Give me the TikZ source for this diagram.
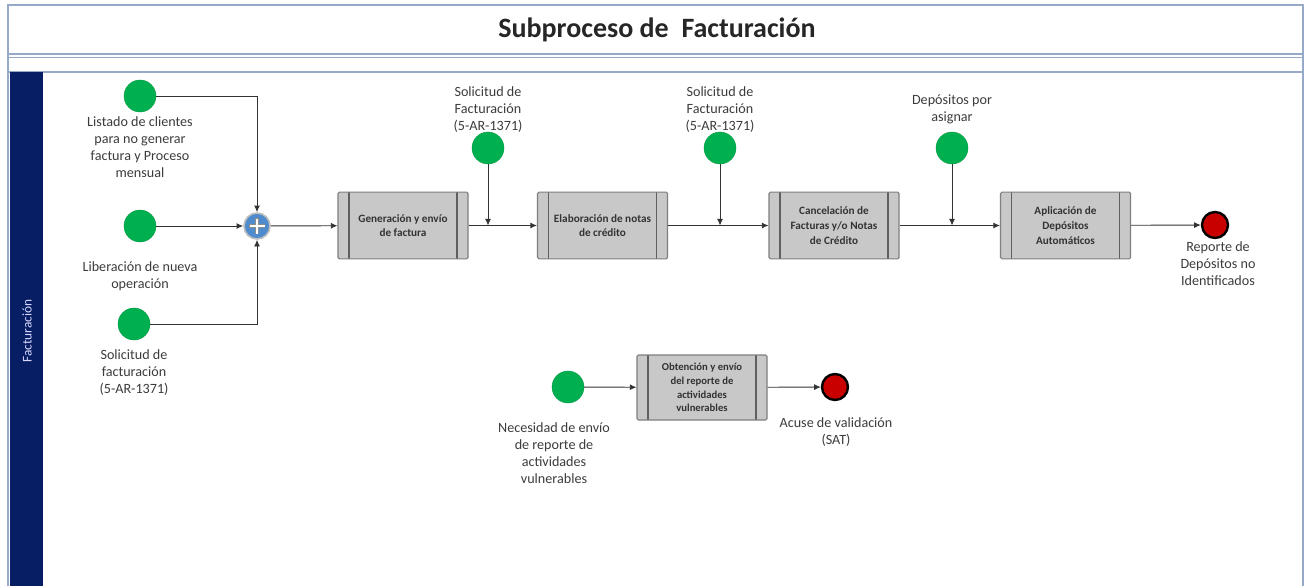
\documentclass[tikz,border=0pt]{standalone}
\usepackage{fontspec}
\setmainfont{Carlito}
\usetikzlibrary{arrows.meta,calc}
\definecolor{evgreen}{RGB}{0,176,80}
\definecolor{evred}{RGB}{200,0,0}
\definecolor{lanenavy}{RGB}{8,30,100}
\definecolor{framebl}{RGB}{150,170,200}
\definecolor{taskgray}{RGB}{200,200,200}
\definecolor{taskedge}{RGB}{95,95,95}
\definecolor{gwblue}{RGB}{80,140,205}
\definecolor{txtgray}{RGB}{60,60,60}
\begin{document}
\begin{tikzpicture}[x=0.75pt,y=-0.75pt,
  startev/.style={circle,fill=evgreen,draw=evgreen!85!black,line width=0.3pt,minimum size=24pt,inner sep=0pt},
  endev/.style={circle,fill=evred,draw=black,line width=1.8pt,minimum size=19.5pt,inner sep=0pt},
  gateway/.style={circle,fill=gwblue,draw=black!25,line width=1.2pt,minimum size=19.5pt,inner sep=0pt},
  task/.style={rectangle,rounded corners=1pt,fill=taskgray,draw=taskedge!80,line width=0.8pt,minimum width=97.5pt,minimum height=50pt,
    align=center,font=\bfseries\fontsize{8.4}{11}\selectfont,text=black!80,
    path picture={
      \draw[taskedge,line width=0.9pt] ([xshift=8.25pt]path picture bounding box.north west) -- ([xshift=8.25pt]path picture bounding box.south west);
      \draw[taskedge,line width=0.9pt] ([xshift=-8.25pt]path picture bounding box.north east) -- ([xshift=-8.25pt]path picture bounding box.south east);
    }},
  lbl/.style={align=center,font=\fontsize{10.6}{12.75}\selectfont,text=txtgray,inner sep=0pt},
  flow/.style={draw=black!80,line width=0.7pt,-{Latex[length=5pt,width=4.5pt]}},
  frame/.style={draw=framebl,line width=1.2pt},
]
\useasboundingbox (0,0) rectangle (1309,585);
% frame and title
\fill[white] (0,0) rectangle (1309,585);
\draw[frame] (8,5) rectangle (1303,600);
\draw[frame] (8,54) -- (1303,54);
\draw[frame] (8,57.5) -- (1303,57.5);
\draw[frame] (8,72) -- (1303,72);
\node[font=\bfseries\fontsize{21}{24}\selectfont,text=black!85] (title) at (657,30) {Subproceso de\ \ Facturación};
\fill[lanenavy] (10,72) rectangle (43,600);
\node[rotate=90,text=white!85!blue,font=\fontsize{10}{12}\selectfont] (lane) at (27,331) {Facturación};

% events
\node[startev] (s1) at (140,96) {};
\node[lbl] (s1l) at (140,147.5) {Listado de clientes\\para no generar\\factura y Proceso\\mensual};
\node[startev] (s2) at (140,226) {};
\node[lbl] (s2l) at (140,276) {Liberación de nueva\\operación};
\node[startev] (s3) at (134,324) {};
\node[lbl] (s3l) at (134,373) {Solicitud de\\facturación\\(5-AR-1371)};
\node[gateway] (gw) at (257,226) {};
\draw[line width=3.2pt,black!45] ($(gw)+(-8,0)$) -- ($(gw)+(8,0)$) ($(gw)+(0,-8)$) -- ($(gw)+(0,8)$);
\draw[line width=2.2pt,white] ($(gw)+(-7.5,0)$) -- ($(gw)+(7.5,0)$) ($(gw)+(0,-7.5)$) -- ($(gw)+(0,7.5)$);

\node[task] (t1) at (403,225.5) {Generación y envío\\de factura};
\node[task] (t2) at (602.5,225.5) {Elaboración de notas\\de crédito};
\node[task] (t3) at (834,225.5) {Cancelación de\\Facturas y/o Notas\\de Crédito};
\node[task] (t4) at (1065.5,225.5) {Aplicación de\\Depósitos\\Automáticos};
\node[endev] (e1) at (1215,225) {};
\node[lbl] (e1l) at (1218,264) {Reporte de\\Depósitos no\\Identificados};

\node[startev] (m1) at (488,148) {};
\node[lbl] (m1l) at (488,110) {Solicitud de\\Facturación\\(5-AR-1371)};
\node[startev] (m2) at (720,148) {};
\node[lbl] (m2l) at (720,110) {Solicitud de\\Facturación\\(5-AR-1371)};
\node[startev] (m3) at (952,148) {};
\node[lbl] (m3l) at (952,109) {Depósitos por\\asignar};
\coordinate (j1) at (488,225.5);
\coordinate (j2) at (720,225.5);
\coordinate (j3) at (952,225.5);

\node[startev] (s4) at (568,387) {};
\node[lbl] (s4l) at (554,453) {Necesidad de envío\\de reporte de\\actividades\\vulnerables};
\node[task,minimum height=48.75pt,font=\bfseries\fontsize{8}{10.2}\selectfont] (t5) at (702,387.5) {Obtención y envío\\del reporte de\\actividades\\vulnerables};
\node[endev] (e2) at (835,387) {};
\node[lbl] (e2l) at (836,432.5) {Acuse de validación\\(SAT)};

% connectors
\draw[flow] (s1) -| (gw);
\draw[flow] (s2) -- (gw);
\draw[flow] (s3) -| (gw);
\draw[flow] (gw) -- (t1);
\draw[flow] (t1) -- (t2);
\draw[flow] (t2) -- (t3);
\draw[flow] (t3) -- (t4);
\draw[flow] (t4) -- (e1);
\draw[flow] (m1) -- (j1);
\draw[flow] (m2) -- (j2);
\draw[flow] (m3) -- (j3);
\draw[flow] (s4) -- (t5);
\draw[flow] (t5) -- (e2);
\end{tikzpicture}
\end{document}
